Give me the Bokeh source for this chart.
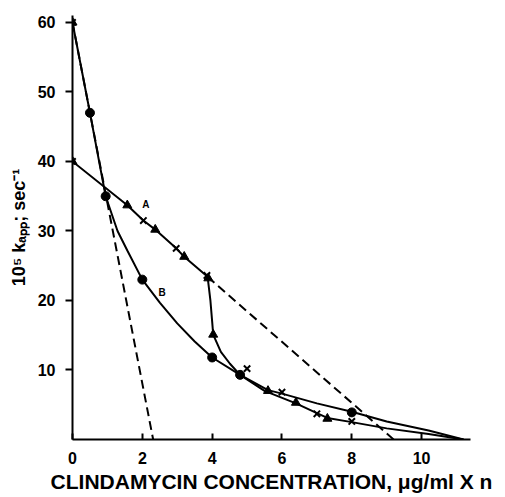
from bokeh.plotting import figure
from bokeh.models import Range1d, FixedTicker, Label
from bokeh.embed import file_html
from bokeh.resources import INLINE

# ---- data ----
curve_a_x = [0, 1.57, 2.03, 2.37, 2.97, 3.2, 3.87, 3.95, 4.0, 4.03, 4.25, 4.51, 4.8, 5.5, 6.4, 7.0, 7.3, 8.0, 9.0, 10.2, 11.2]
curve_a_y = [40, 33.7, 31.5, 30.2, 27.5, 26.3, 23.4, 20.0, 17.0, 15.1, 12.6, 10.9, 9.3, 7.0, 5.2, 3.8, 3.1, 2.5, 1.6, 0.8, 0]

curve_b_x = [0, 0.5, 0.95, 1.29, 1.57, 2.0, 2.5, 3.0, 3.5, 4.0, 4.8, 5.6, 6.0, 7.0, 8.0, 9.0, 10.2, 11.2]
curve_b_y = [60, 47, 35, 30, 27.2, 23, 19.7, 16.7, 14.1, 11.8, 9.3, 7.1, 6.6, 5.2, 4.0, 2.6, 1.3, 0]

dash1_x = [0, 2.31]
dash1_y = [60, 0]
dash2_x = [3.87, 9.2]
dash2_y = [23.4, 0]

circle_x = [0.5, 0.95, 2.0, 4.0, 4.8, 8.0]
circle_y = [47, 35, 23, 11.8, 9.3, 3.9]

tri_x = [0, 0, 1.57, 2.37, 3.2, 3.89, 4.03, 5.6, 6.4, 7.3]
tri_y = [60, 40, 33.7, 30.2, 26.3, 23.2, 15.1, 7.0, 5.3, 3.0]

xmark_x = [0, 0, 2.03, 2.97, 3.85, 5.0, 6.0, 7.0, 8.0]
xmark_y = [60, 40, 31.5, 27.5, 23.6, 10.2, 6.8, 3.7, 2.6]

x_ticks = [0, 2, 4, 6, 8, 10]
y_ticks = [10, 20, 30, 40, 50, 60]

x_title = "CLINDAMYCIN CONCENTRATION, \u03bcg/ml X n"
y_title = "10\u2075 k\u2090\u209a\u209a; sec\u207b\u00b9"

FONT = "Liberation Sans"

p = figure(width=505, height=497, output_backend="svg", toolbar_location=None,
           x_range=Range1d(0, 11.4), y_range=Range1d(0, 61),
           min_border_left=72, min_border_right=35, min_border_top=15, min_border_bottom=58)
p.outline_line_color = None
p.xgrid.visible = False
p.ygrid.visible = False
p.background_fill_color = "white"
p.border_fill_color = "white"

for ax in (p.xaxis[0], p.yaxis[0]):
    ax.axis_line_width = 2
    ax.axis_line_color = "black"
    ax.major_tick_line_width = 2
    ax.major_tick_line_color = "black"
    ax.minor_tick_line_color = None
    ax.major_label_text_font = FONT
    ax.major_label_text_font_style = "bold"
    ax.major_label_text_font_size = "16px"
    ax.major_label_text_color = "black"
    ax.axis_label_text_font = FONT
    ax.axis_label_text_font_style = "bold"
    ax.axis_label_text_color = "black"

p.xaxis.ticker = FixedTicker(ticks=x_ticks)
p.xaxis.major_tick_in = 6
p.xaxis.major_tick_out = 0
p.xaxis.major_label_standoff = 12
p.xaxis.axis_label = x_title
p.xaxis.axis_label_text_font_size = "21px"
p.xaxis.axis_label_standoff = 3

p.yaxis.ticker = FixedTicker(ticks=y_ticks)
p.yaxis.major_tick_in = 0
p.yaxis.major_tick_out = 7
p.yaxis.major_label_standoff = 10
p.yaxis.axis_label = y_title
p.yaxis.axis_label_text_font_size = "18px"
p.yaxis.axis_label_standoff = 6

# curves
p.line(curve_a_x, curve_a_y, line_color="black", line_width=2)
p.line(curve_b_x, curve_b_y, line_color="black", line_width=2)
p.line(dash1_x, dash1_y, line_color="black", line_width=2, line_dash="9 5")
p.line(dash2_x, dash2_y, line_color="black", line_width=2, line_dash="9 5")

# markers
p.scatter(circle_x, circle_y, marker="circle", size=9, fill_color="black", line_color="black")
p.scatter(tri_x, tri_y, marker="triangle", size=9, fill_color="black", line_color="black")
p.scatter(xmark_x, xmark_y, marker="x", size=9, line_color="black", line_width=2)

# curve letters
p.add_layout(Label(x=2.1, y=33.8, text="A", text_font=FONT, text_font_style="bold",
                   text_font_size="10px", text_color="black",
                   text_align="center", text_baseline="middle"))
p.add_layout(Label(x=2.57, y=21.1, text="B", text_font=FONT, text_font_style="bold",
                   text_font_size="10px", text_color="black",
                   text_align="center", text_baseline="middle"))

open("out.html", "w").write(file_html(p, INLINE))
